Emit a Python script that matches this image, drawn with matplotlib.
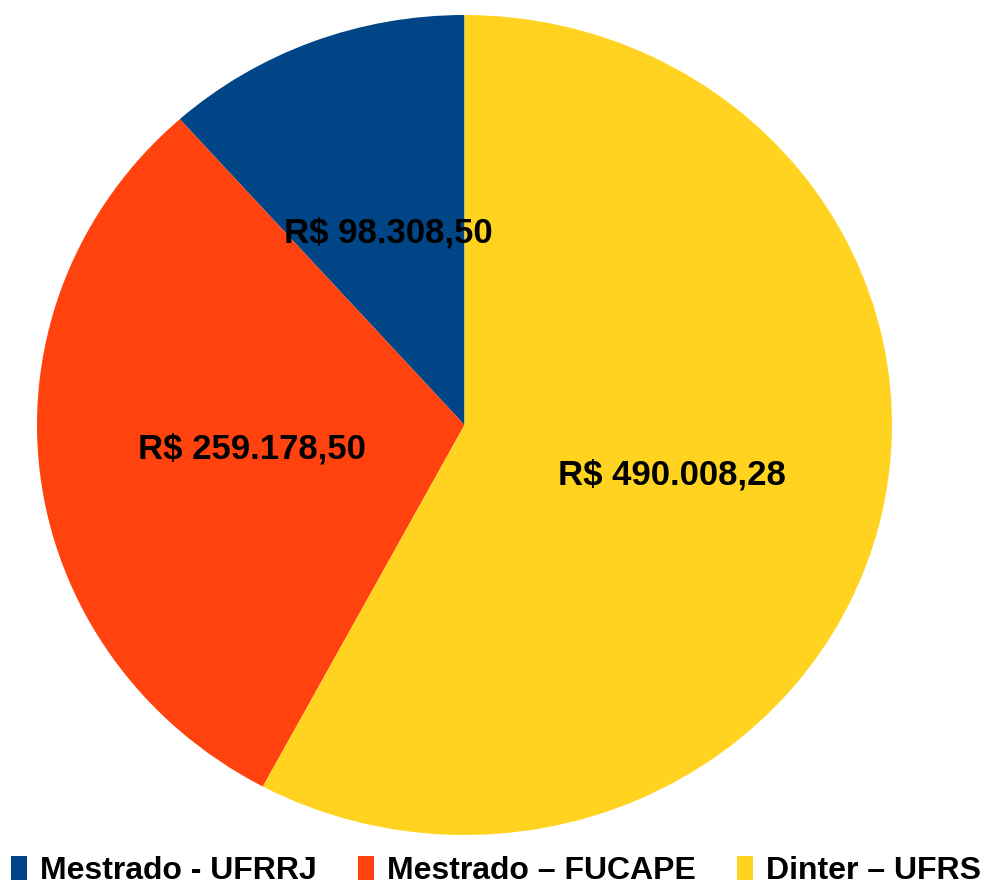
import matplotlib
matplotlib.use("Agg")
import matplotlib.pyplot as plt
from matplotlib.patches import Patch

categories = ["Mestrado - UFRRJ", "Mestrado – FUCAPE", "Dinter – UFRS"]
values = [98308.50, 259178.50, 490008.28]
value_labels = ["R$ 98.308,50", "R$ 259.178,50", "R$ 490.008,28"]
colors = ["#004586", "#ff420e", "#ffd320"]

plt.rcParams['font.family'] = ['Liberation Sans', 'DejaVu Sans']

W, H = 992, 886
fig = plt.figure(figsize=(W / 100, H / 100), dpi=100)
# pie area in pixels: x 37..892, y 15..835 (top-origin)
ax = fig.add_axes([37 / W, (H - 835) / H, 855 / W, 820 / H])

it = iter(value_labels)
wedges, texts, autotexts = ax.pie(values, colors=colors, startangle=90, counterclock=True,
                                  autopct=lambda p: next(it), pctdistance=0.5,
                                  wedgeprops=dict(linewidth=0))
for t in autotexts:
    t.set_fontsize(25)
    t.set_fontweight('bold')
    t.set_color('black')
ax.set_aspect('auto')
ax.set_xlim(-1, 1)
ax.set_ylim(-1, 1)

handles = [Patch(facecolor=c, edgecolor='none') for c in colors]
fig.legend(handles, categories, loc='center', bbox_to_anchor=(0.5, 1 - 871 / H),
           ncol=3, frameon=False, prop=dict(size=23, weight='bold'),
           handlelength=0.5, handleheight=0.75, handletextpad=0.4, columnspacing=1.3)

fig.savefig("out.png", dpi=100)
